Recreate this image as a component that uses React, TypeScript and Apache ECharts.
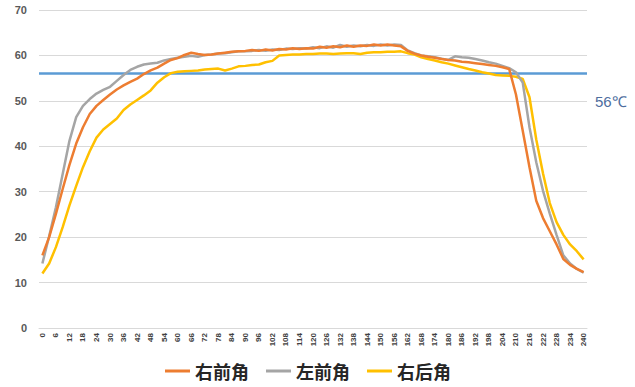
import React, { useEffect, useRef } from "react";
import * as echarts from "echarts";

const timeLabels: string[] = [];
for (let t = 0; t <= 240; t += 3) timeLabels.push(String(t));

const rightFront = [
  16.0, 20.0, 25.1, 30.6, 35.9, 40.6, 44.2, 47.1, 48.9, 50.2,
  51.4, 52.5, 53.4, 54.2, 54.9, 55.9, 56.7, 57.3, 58.2, 59.0,
  59.4, 60.1, 60.6, 60.3, 60.1, 60.2, 60.4, 60.6, 60.8, 60.9,
  61.0, 61.2, 61.0, 61.3, 61.1, 61.4, 61.3, 61.6, 61.4, 61.6,
  61.5, 61.9, 61.7, 62.0, 61.8, 62.2, 61.9, 62.2, 62.1, 62.4,
  62.2, 62.4, 62.2, 62.0, 61.0, 60.4, 60.0, 59.7, 59.5, 59.2,
  59.0, 58.9, 58.6, 58.5, 58.3, 58.1, 57.9, 57.7, 57.4, 57.0,
  51.4, 43.4, 35.4, 28.0, 24.2, 21.3, 18.4, 15.2, 13.9, 13.0,
  12.3,
];

const leftFront = [
  14.2, 20.2, 26.6, 33.9, 41.2, 46.4, 48.9, 50.4, 51.6, 52.4,
  53.1, 54.4, 55.7, 56.8, 57.5, 58.0, 58.2, 58.4, 58.9, 59.2,
  59.5, 59.7, 59.9, 59.7, 60.1, 60.2, 60.4, 60.5, 60.7, 60.9,
  60.9, 61.0, 61.2, 61.0, 61.3, 61.2, 61.5, 61.4, 61.6, 61.5,
  61.8, 61.6, 62.0, 61.7, 62.3, 61.9, 62.2, 62.0, 62.3, 62.1,
  62.4, 62.2, 62.4, 62.3, 61.1, 60.5, 60.0, 59.8, 59.6, 59.3,
  59.0, 59.8, 59.6, 59.5, 59.2, 58.9, 58.5, 58.2, 57.7, 57.2,
  56.3, 54.0, 44.2, 36.5, 30.2, 25.2, 20.5, 16.0, 14.2, 13.0,
  12.2,
];

const rightRear = [
  12.0, 14.2, 17.8, 22.2, 27.0, 31.3, 35.4, 38.9, 41.9, 43.7,
  44.9, 46.1, 48.0, 49.2, 50.2, 51.2, 52.3, 54.0, 55.2, 56.1,
  56.4, 56.5, 56.6, 56.7, 56.9, 57.0, 57.1, 56.7, 57.1, 57.6,
  57.7, 57.9, 58.0, 58.5, 58.8, 60.0, 60.1, 60.2, 60.2, 60.3,
  60.3, 60.4, 60.4, 60.3, 60.4, 60.5, 60.5, 60.3, 60.6, 60.7,
  60.7, 60.8, 60.8, 60.9, 60.5, 60.2, 59.6, 59.2, 58.9, 58.5,
  58.2, 57.8, 57.4, 57.0, 56.7, 56.3, 56.0, 55.7, 55.6, 55.5,
  55.3, 54.8, 50.8, 41.5, 34.0, 27.5, 23.3, 20.5, 18.4, 16.9,
  15.1,
];

const seriesNames = ["右前角", "左前角", "右后角"];
const seriesColors = ["#ed7d31", "#a5a5a5", "#ffc000"];
const thresholdValue = 56;
const thresholdLabel = "56℃";

export default function App() {
  const ref = useRef<HTMLDivElement>(null);
  useEffect(() => {
    if (!ref.current) return;
    const chart = echarts.init(ref.current, undefined, { renderer: "svg" });
    const datasets = [rightFront, leftFront, rightRear];
    chart.setOption({
      animation: false,
      backgroundColor: "#ffffff",
      grid: { left: 39, right: 48, top: 10, bottom: 59 },
      legend: {
        left: 160,
        top: 357,
        itemWidth: 25,
        itemHeight: 3,
        itemGap: 17,
        icon: "rect",
        data: seriesNames,
        textStyle: {
          fontSize: 18,
          fontWeight: "bold",
          color: "#262626",
          fontFamily: "Noto Sans CJK SC",
        },
      },
      xAxis: {
        type: "category",
        data: timeLabels,
        boundaryGap: true,
        axisTick: { show: false },
        axisLine: { lineStyle: { color: "#d9d9d9" } },
        axisLabel: {
          interval: 1,
          rotate: 90,
          margin: 5,
          fontSize: 8,
          fontWeight: "bold",
          color: "#404040",
          fontFamily: "Liberation Sans",
        },
      },
      yAxis: {
        type: "value",
        min: 0,
        max: 70,
        interval: 10,
        axisLine: { show: false },
        axisTick: { show: false },
        splitLine: { lineStyle: { color: "#d9d9d9" } },
        axisLabel: {
          margin: 12,
          fontSize: 11,
          fontWeight: "bold",
          color: "#595959",
          fontFamily: "Liberation Sans",
        },
      },
      series: seriesNames.map((name, i) => ({
        name,
        type: "line",
        data: datasets[i],
        symbol: "none",
        smooth: false,
        z: 3 - i,
        lineStyle: { color: seriesColors[i], width: 2.5 },
        itemStyle: { color: seriesColors[i] },
        markLine:
          i === 0
            ? {
                silent: true,
                symbol: "none",
                z: 1,
                label: { show: false },
                lineStyle: { color: "#5b9bd5", width: 2.5, type: "solid" },
                data: [{ yAxis: thresholdValue }],
              }
            : undefined,
      })),
      graphic: [
        {
          type: "text",
          left: 595,
          top: 94,
          style: {
            text: thresholdLabel,
            fontSize: 15,
            fill: "#4e6e9e",
            fontFamily: "Liberation Sans",
          },
        },
      ],
    });
    return () => chart.dispose();
  }, []);
  return <div ref={ref} style={{ width: 635, height: 387, position: "absolute", left: 0, top: 0 }} />;
}
